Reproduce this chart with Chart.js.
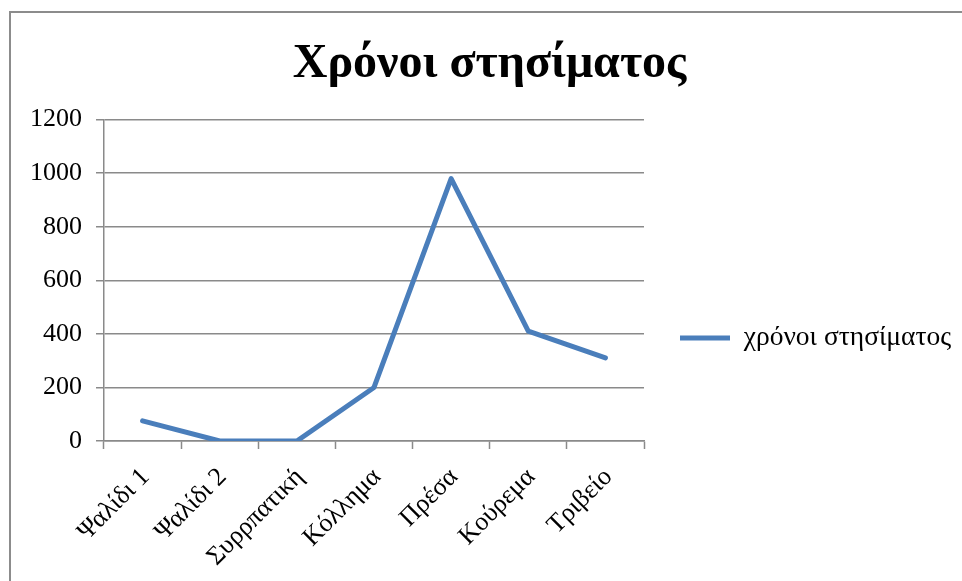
<!DOCTYPE html>
<html>
<head>
<meta charset="utf-8">
<script src="https://cdn.jsdelivr.net/npm/chart.js@4.4.1/dist/chart.umd.min.js"></script>
<style>
  html, body { margin: 0; padding: 0; background: #ffffff; overflow: hidden; }
  #wrap { position: relative; width: 962px; height: 581px; }
  #frame {
    position: absolute; left: 9px; top: 11px; width: 1000px; height: 700px;
    border-left: 2px solid #8c8c8c; border-top: 2px solid #8c8c8c;
  }
  #c { position: absolute; left: 0; top: 0; }
</style>
</head>
<body>
<div id="wrap">
  <div id="frame"></div>
  <canvas id="c" width="962" height="581"></canvas>
</div>
<script>
// Set-up times per station
const stations = ['Ψαλίδι 1', 'Ψαλίδι 2', 'Συρρπατική', 'Κόλλημα', 'Πρέσα', 'Κούρεμα', 'Τριβείο'];
const setupTimes = [75, 0, 0, 200, 980, 410, 310];
const seriesName = 'χρόνοι στησίματος';
const chartTitle = 'Χρόνοι στησίματος';
const yMin = 0;
const yMax = 1200;
const yStep = 200;

const SERIF = "'Liberation Serif', 'Times New Roman', serif";
const BLUE = '#4a7ebb';
const GREY = '#8a8a8a';
const TICK_SIZE = 26;
const LEGEND_SIZE = 27.5;

// Legend geometry: plot area ends at x=644, legend line starts at x=680
const legendPad = 36;
const legendLine = 50;
const mctx = document.createElement('canvas').getContext('2d');
mctx.font = LEGEND_SIZE + 'px ' + SERIF;
const legendTextW = mctx.measureText(seriesName).width;
const legendSpan = 962 - 644;
const padRight = Math.max(0, Math.round(legendSpan - (legendPad + legendLine + LEGEND_SIZE / 2 + legendTextW)));
const padLeft = 28;

new Chart(document.getElementById('c'), {
  type: 'line',
  data: {
    labels: stations,
    datasets: [{
      label: seriesName,
      data: setupTimes,
      borderColor: BLUE,
      backgroundColor: BLUE,
      borderWidth: 5,
      borderCapStyle: 'round',
      borderJoinStyle: 'round',
      pointRadius: 0,
      pointHoverRadius: 0,
      tension: 0,
      fill: false
    }]
  },
  options: {
    responsive: false,
    animation: false,
    layout: { padding: { left: padLeft, right: padRight, top: 12, bottom: 0 } },
    plugins: {
      title: {
        display: true,
        text: chartTitle,
        color: '#000000',
        font: { family: SERIF, size: 48, weight: 'bold', lineHeight: 1.2 },
        padding: { top: 24, bottom: 26 }
      },
      legend: {
        display: true,
        position: 'right',
        maxWidth: legendSpan - padRight,
        title: { display: true, text: ' ', font: { size: 10, lineHeight: 1 }, padding: { top: 73, bottom: 0 } },
        labels: {
          color: '#000000',
          font: { family: SERIF, size: LEGEND_SIZE },
          usePointStyle: true,
          pointStyle: 'line',
          pointStyleWidth: legendLine,
          padding: legendPad
        }
      },
      tooltip: { enabled: false }
    },
    scales: {
      x: {
        type: 'category',
        offset: true,
        afterFit: (scale) => { scale.height = 140; },
        grid: {
          display: true,
          offset: true,
          drawOnChartArea: false,
          drawTicks: true,
          tickLength: 8,
          tickWidth: 1.5,
          tickColor: GREY
        },
        border: { display: true, color: GREY, width: 1.5 },
        ticks: {
          color: '#000000',
          font: { family: SERIF, size: TICK_SIZE },
          minRotation: 45,
          maxRotation: 45,
          autoSkip: false,
          padding: 13,
          labelOffset: 3
        }
      },
      y: {
        min: yMin,
        max: yMax,
        afterFit: (scale) => { scale.width = 104 - padLeft; },
        grid: {
          color: GREY,
          lineWidth: 1.5,
          drawTicks: true,
          tickLength: 8,
          tickColor: GREY
        },
        border: { display: true, color: GREY, width: 1.5 },
        ticks: {
          stepSize: yStep,
          color: '#000000',
          font: { family: SERIF, size: TICK_SIZE },
          padding: 14,
          callback: (value) => String(value)
        }
      }
    }
  }
});
</script>
</body>
</html>
